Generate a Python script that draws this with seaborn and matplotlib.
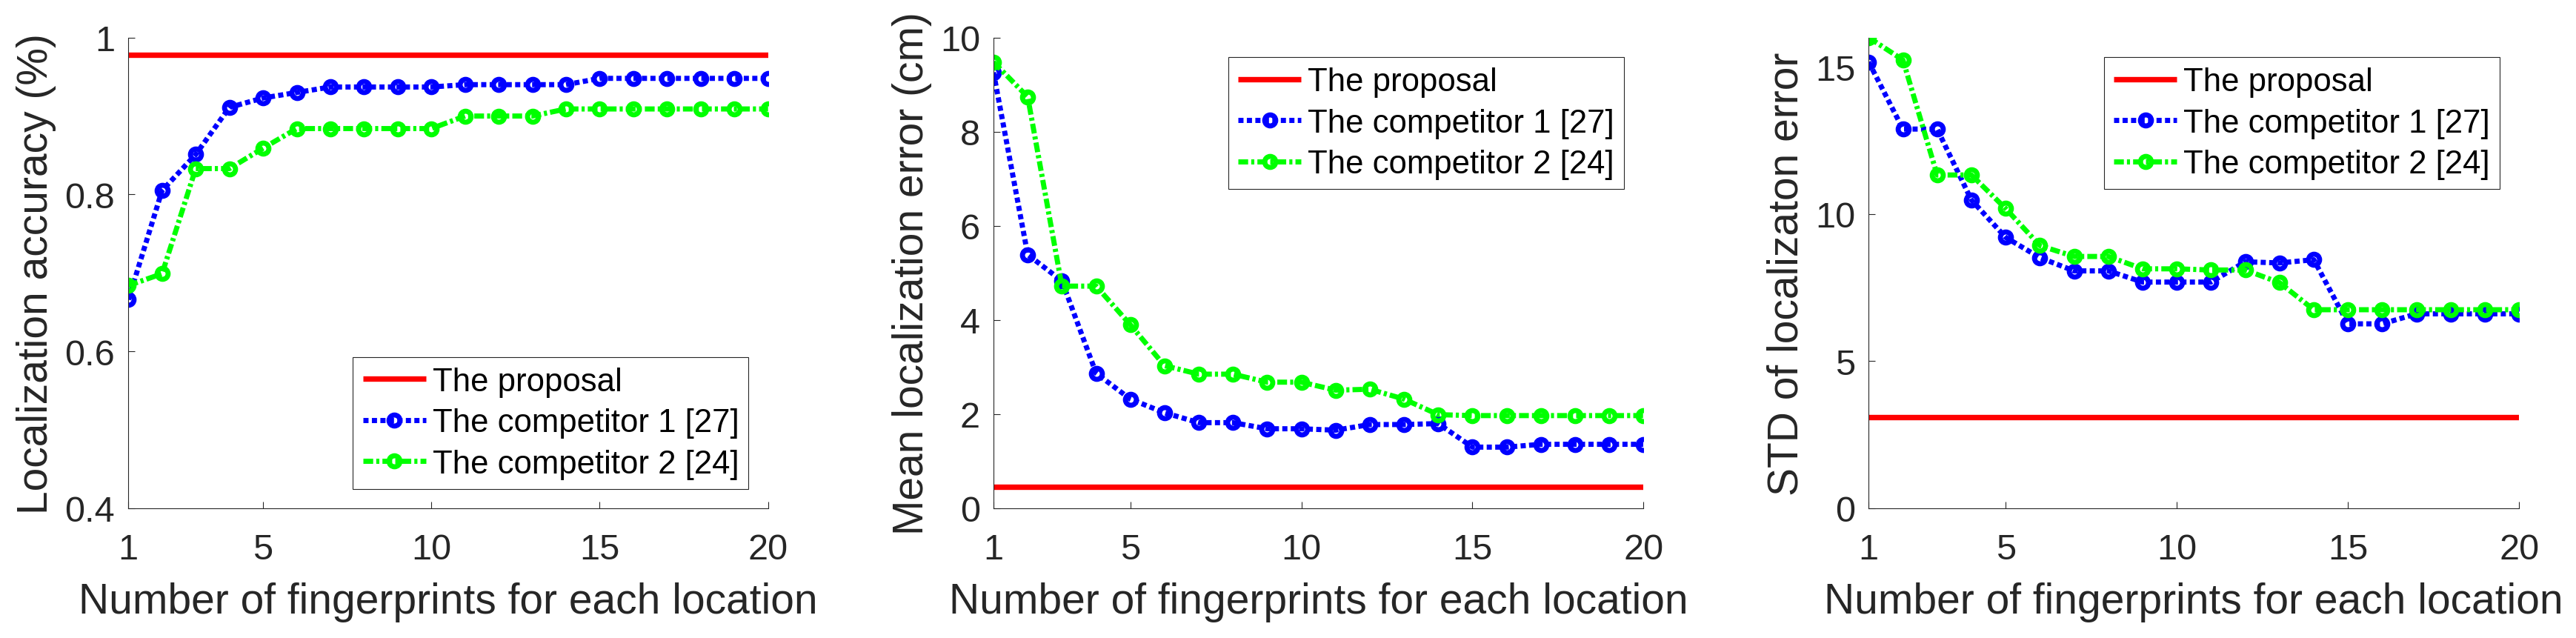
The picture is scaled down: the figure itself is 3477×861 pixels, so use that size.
import matplotlib
matplotlib.use("Agg")
import matplotlib.pyplot as plt
from matplotlib.ticker import FuncFormatter
import seaborn as sns

# ---------------- data ----------------
fingerprints = list(range(1, 21))

acc_proposal = 0.978
acc_comp1 = [0.666, 0.805, 0.851, 0.911, 0.923, 0.930, 0.937, 0.937, 0.937, 0.937,
             0.940, 0.940, 0.940, 0.940, 0.948, 0.948, 0.948, 0.948, 0.948, 0.948]
acc_comp2 = [0.684, 0.699, 0.833, 0.833, 0.859, 0.884, 0.884, 0.884, 0.884, 0.884,
             0.900, 0.900, 0.900, 0.909, 0.909, 0.909, 0.909, 0.909, 0.909, 0.909]

err_proposal = 0.46
err_comp1 = [9.26, 5.39, 4.83, 2.87, 2.32, 2.03, 1.82, 1.82, 1.69, 1.69,
             1.66, 1.78, 1.78, 1.80, 1.30, 1.30, 1.36, 1.36, 1.36, 1.36]
err_comp2 = [9.48, 8.74, 4.72, 4.72, 3.90, 3.03, 2.85, 2.85, 2.68, 2.68,
             2.51, 2.53, 2.32, 1.99, 1.97, 1.97, 1.97, 1.97, 1.97, 1.97]

std_proposal = 3.09
std_comp1 = [15.17, 12.89, 12.89, 10.48, 9.21, 8.52, 8.07, 8.07, 7.69, 7.69,
             7.69, 8.38, 8.34, 8.45, 6.27, 6.27, 6.61, 6.61, 6.61, 6.61]
std_comp2 = [16.0, 15.24, 11.33, 11.33, 10.19, 8.93, 8.56, 8.56, 8.14, 8.14,
             8.10, 8.10, 7.67, 6.75, 6.75, 6.75, 6.75, 6.75, 6.75, 6.75]

series_labels = ["The proposal", "The competitor 1 [27]", "The competitor 2 [24]"]
x_label = "Number of fingerprints for each location"
x_ticks = [1, 5, 10, 15, 20]

panels = [
    dict(ylabel="Localization accuracy (%)", prop=acc_proposal, c1=acc_comp1, c2=acc_comp2,
         ylim=(0.4, 1.0), yticks=[0.4, 0.6, 0.8, 1.0], loc="lower right"),
    dict(ylabel="Mean localization error (cm)", prop=err_proposal, c1=err_comp1, c2=err_comp2,
         ylim=(0, 10), yticks=[0, 2, 4, 6, 8, 10], loc="upper right"),
    dict(ylabel="STD of localizaton error", prop=std_proposal, c1=std_comp1, c2=std_comp2,
         ylim=(0, 16), yticks=[0, 5, 10, 15], loc="upper right"),
]

# ---------------- style ----------------
sns.set_style("ticks")
plt.rcParams["font.family"] = ["Liberation Sans", "DejaVu Sans"]
TXT = "#262626"
plt.rcParams.update({
    "text.color": TXT,
    "axes.labelcolor": TXT,
    "xtick.color": TXT,
    "ytick.color": TXT,
    "axes.edgecolor": TXT,
    "axes.linewidth": 0.8,
})

fig = plt.figure(figsize=(34.77, 8.62), dpi=100)
W, H = 3477.0, 862.0
ax_px = [(173.3, 1036.7), (1341.0, 2218.3), (2522.3, 3400.3)]
top_px, bot_px = 51.7, 687.0

LW = 5.0
marker_kw = dict(marker="o", markersize=10.7, mew=4.9, mfc="none")

for (l, r), p in zip(ax_px, panels):
    ax = fig.add_axes([l / W, 1 - bot_px / H, (r - l) / W, (bot_px - top_px) / H])
    ax.plot([fingerprints[0], fingerprints[-1]], [p["prop"], p["prop"]],
            color="#FF0000", lw=LW * 1.06, solid_capstyle="butt", label=series_labels[0])
    sns.lineplot(x=fingerprints, y=p["c1"], ax=ax, color="#0000FF", lw=LW,
                 linestyle=(0, (1.0, 0.65)), mec="#0000FF", label=series_labels[1], **marker_kw)
    sns.lineplot(x=fingerprints, y=p["c2"], ax=ax, color="#00FF00", lw=LW,
                 linestyle=(0, (1.9, 0.6, 0.6, 0.6)), mec="#00FF00", label=series_labels[2], **marker_kw)

    ax.set_xlim(1, 20)
    ax.set_ylim(*p["ylim"])
    ax.set_xticks(x_ticks)
    ax.set_yticks(p["yticks"])
    ax.yaxis.set_major_formatter(FuncFormatter(lambda v, _: "%g" % v))
    ax.tick_params(axis="both", direction="in", length=6.5, width=0.8, labelsize=35)
    ax.tick_params(axis="x", pad=24)
    ax.tick_params(axis="y", pad=13)
    for s in ("top", "right"):
        ax.spines[s].set_visible(False)
    ax.set_xlabel(x_label, fontsize=41, labelpad=15)
    ax.set_ylabel(p["ylabel"], fontsize=41, labelpad=8)

    leg = ax.legend(loc=p["loc"], fontsize=31.5, frameon=True, fancybox=False, framealpha=1,
                    edgecolor=TXT, borderaxespad=0.6, borderpad=0.3, labelspacing=0.33,
                    handlelength=1.95, handletextpad=0.2, numpoints=1)
    leg.get_frame().set_linewidth(0.8)
    for t in leg.get_texts():
        t.set_color("black")

fig.savefig("out.png", dpi=100)
